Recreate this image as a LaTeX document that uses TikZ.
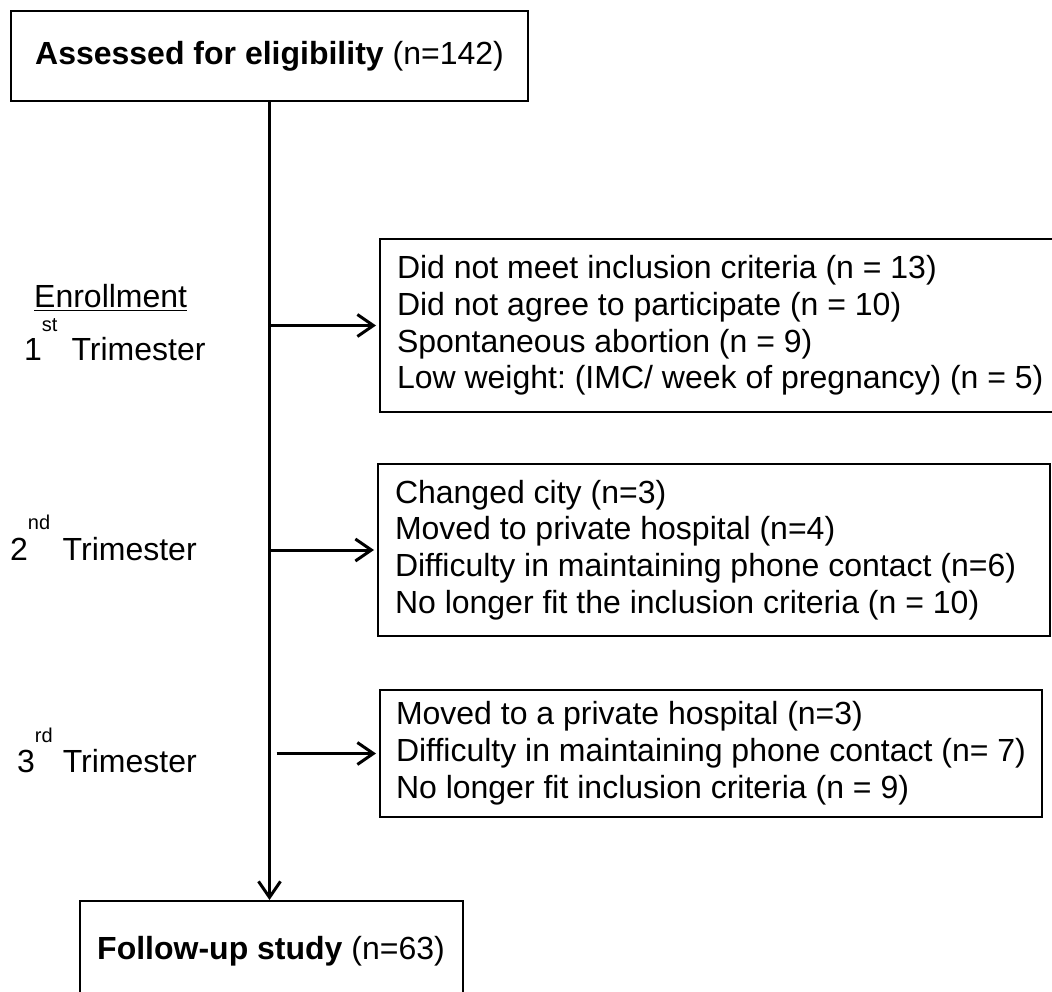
\documentclass[tikz,border=0pt]{standalone}
\usepackage{fontspec}
\setmainfont{Liberation Sans}
\usepackage{tikz}
\usetikzlibrary{arrows.meta,positioning}
\newcommand{\plainspaces}{\frenchspacing\spaceskip=0pt\relax\xspaceskip=0pt\relax}

\begin{document}
\begin{tikzpicture}[x=1pt,y=-1pt,
      box_main/.style={
         draw=black,
         line width=2pt,
         inner sep=0pt,
         minimum height=90pt,
         font=\fontsize{32}{36.8}\selectfont},
      box_excl/.style={
         draw=black,
         line width=2pt,
         anchor=west,
         align=left,
         inner xsep=17pt,
         inner ysep=0pt,
         font=\fontsize{32}{36.8}\selectfont,
         execute at begin node=\plainspaces},
      label_tri/.style={
         anchor=base west,
         inner sep=0pt,
         font=\fontsize{32}{36.8}\selectfont},
      arrow_flow/.style={
         -{Straight Barb[length=16pt,width=22pt]},
         line width=3pt,
         },
      arrow_side/.style={
         -{Straight Barb[length=16pt,width=22pt]},
         line width=3pt,
         shorten >=3pt,
         }
]
      \useasboundingbox (0,0) rectangle (1052,992);

      %start and end
      \node[box_main,minimum width=517pt] (assessed) at (269.5,56)
         {\textbf{Assessed for eligibility} (n=142)};
      \node[box_main,minimum width=383pt,minimum height=100pt] (followup) at (271,951)
         {\textbf{Follow-up study} (n=63)};

      %exclusions
      \node[box_excl,minimum width=677pt,minimum height=173pt] (excl1) at (379,325.5)
         {Did not meet inclusion criteria (n = 13)\\
          Did not agree to participate (n = 10)\\
          Spontaneous abortion (n = 9)\\
          Low weight: (IMC/ week of pregnancy) (n = 5)};
      \node[box_excl,text width=638pt,minimum height=172pt] (excl2) at (377,550)
         {Changed city (n=3)\\
          Moved to private hospital (n=4)\\
          Difficulty in maintaining phone contact (n=6)\\
          No longer fit the inclusion criteria (n = 10)};
      \node[box_excl,inner xsep=16pt,minimum width=658pt,minimum height=127pt] (excl3) at (379,753.5)
         {Moved to a private hospital (n=3)\\
          Difficulty in maintaining phone contact (n= 7)\\
          No longer fit inclusion criteria (n = 9)};

      %trimesters
      \node[label_tri] (enroll) at (34,308) {\underline{Enrollment}};
      \node[label_tri] (tri1) at (24,360)
         {1\raisebox{29pt}{\fontsize{20}{20}\selectfont st}\hspace{14pt}Trimester};
      \node[label_tri] (tri2) at (10,560)
         {2\raisebox{31pt}{\fontsize{20}{20}\selectfont nd}\hspace{12.5pt}Trimester};
      \node[label_tri] (tri3) at (17,772)
         {3\raisebox{30pt}{\fontsize{20}{20}\selectfont rd}\hspace{10pt}Trimester};

      \draw[arrow_flow] (assessed.south) -- (assessed.south |- followup.north);

      \foreach \b in {excl1,excl2}
        \draw[arrow_side] (assessed.south |- \b.west) -- (\b.west);
      \draw[arrow_side] ([xshift=7pt]assessed.south |- excl3.west) -- (excl3.west);

\end{tikzpicture}
\end{document}
